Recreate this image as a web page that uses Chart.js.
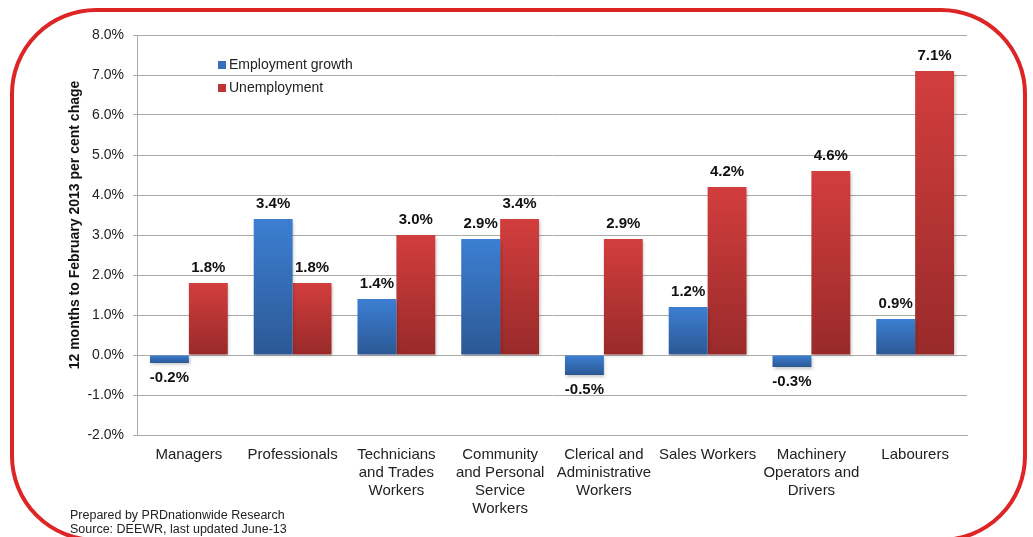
<!DOCTYPE html>
<html>
<head>
<meta charset="utf-8">
<script src="https://cdn.jsdelivr.net/npm/chart.js@4/dist/chart.umd.min.js"></script>
<style>
  html, body { margin: 0; padding: 0; background: #fff; }
  canvas { display: block; }
</style>
</head>
<body>
<canvas id="grafico" width="1033" height="537"></canvas>
<script>
// Categorías y series
const categorias = [
  'Managers',
  'Professionals',
  ['Technicians', 'and Trades', 'Workers'],
  ['Community', 'and Personal', 'Service', 'Workers'],
  ['Clerical and', 'Administrative', 'Workers'],
  'Sales Workers',
  ['Machinery', 'Operators and', 'Drivers'],
  'Labourers'
];
const crecimientoEmpleo = [-0.2, 3.4, 1.4, 2.9, -0.5, 1.2, -0.3, 0.9];
const desempleo = [1.8, 1.8, 3.0, 3.4, 2.9, 4.2, 4.6, 7.1];
const ticksY = [-2, -1, 0, 1, 2, 3, 4, 5, 6, 7, 8];

const tituloY = '12 months to February 2013 per cent chage';
const notas = ['Prepared by PRDnationwide Research', 'Source: DEEWR, last updated June-13'];

const FUENTE = 'Arial, "Liberation Sans", sans-serif';
Chart.defaults.font.family = FUENTE;
Chart.defaults.color = '#222';

// degradado vertical por barra
function degradado(claro, oscuro) {
  return function (c) {
    const chart = c.chart;
    if (!chart.chartArea || c.raw === undefined) return claro;
    const y = chart.scales.y;
    const arriba = y.getPixelForValue(Math.max(c.raw, 0));
    const abajo = y.getPixelForValue(Math.min(c.raw, 0));
    const g = chart.ctx.createLinearGradient(0, arriba, 0, abajo + 0.01);
    g.addColorStop(0, claro);
    g.addColorStop(1, oscuro);
    return g;
  };
}

// marco rojo redondeado, título del eje y notas al pie
const marco = {
  id: 'marco',
  beforeDraw(chart) {
    const ctx = chart.ctx;
    ctx.save();
    ctx.strokeStyle = '#dd2525';
    ctx.lineWidth = 4;
    ctx.beginPath();
    ctx.roundRect(12, 10, 1013, 530, 84);
    ctx.stroke();

    ctx.fillStyle = '#222';
    ctx.font = '12.5px ' + FUENTE;
    ctx.textBaseline = 'middle';
    ctx.fillText(notas[0], 70, 516);
    ctx.fillText(notas[1], 70, 530);

    ctx.translate(75, 225);
    ctx.rotate(-Math.PI / 2);
    ctx.textAlign = 'center';
    ctx.fillStyle = '#111';
    ctx.font = 'bold 14px ' + FUENTE;
    ctx.fillText(tituloY, 0, 0);
    ctx.restore();
  }
};

// sombra suave bajo las barras
const sombra = {
  id: 'sombra',
  beforeDatasetDraw(chart) {
    const ctx = chart.ctx;
    ctx.save();
    ctx.shadowColor = 'rgba(0,0,0,0.22)';
    ctx.shadowBlur = 3;
    ctx.shadowOffsetX = 1.5;
    ctx.shadowOffsetY = 1.5;
  },
  afterDatasetDraw(chart) {
    chart.ctx.restore();
  }
};

// etiquetas de valor y leyenda dentro del área
const etiquetas = {
  id: 'etiquetas',
  afterDatasetsDraw(chart) {
    const ctx = chart.ctx;
    ctx.save();
    ctx.fillStyle = '#111';
    ctx.font = 'bold 15px ' + FUENTE;
    ctx.textAlign = 'center';
    ctx.textBaseline = 'middle';
    chart.data.datasets.forEach((ds, i) => {
      chart.getDatasetMeta(i).data.forEach((barra, j) => {
        const v = ds.data[j];
        const y = v >= 0 ? barra.y - 15 : barra.y + 15;
        ctx.fillText(v.toFixed(1) + '%', barra.x, y);
      });
    });

    // leyenda
    ctx.font = '14px ' + FUENTE;
    ctx.textAlign = 'left';
    chart.data.datasets.forEach((ds, i) => {
      const y = 65 + i * 23;
      ctx.fillStyle = ds.legendColor;
      ctx.fillRect(218, y - 4, 8, 8);
      ctx.fillStyle = '#222';
      ctx.fillText(ds.label, 229, y);
    });
    ctx.restore();
  }
};

new Chart(document.getElementById('grafico'), {
  type: 'bar',
  data: {
    labels: categorias,
    datasets: [
      {
        label: 'Employment growth',
        data: crecimientoEmpleo,
        backgroundColor: degradado('#3c7fd3', '#2c5894'),
        legendColor: '#3670be',
        borderWidth: 0
      },
      {
        label: 'Unemployment',
        data: desempleo,
        backgroundColor: degradado('#d23e3d', '#992a2a'),
        legendColor: '#bf3535',
        borderWidth: 0
      }
    ]
  },
  options: {
    responsive: false,
    animation: false,
    layout: { padding: { left: 67, right: 66, top: 35, bottom: 0 } },
    datasets: {
      bar: { categoryPercentage: 0.75, barPercentage: 1.0 }
    },
    plugins: {
      legend: { display: false },
      tooltip: { enabled: false }
    },
    scales: {
      x: {
        grid: { display: false, drawTicks: false },
        border: { display: true, color: '#aaaaaa' },
        ticks: {
          font: { size: 15, lineHeight: 1.2 },
          color: '#222',
          padding: 11,
          maxRotation: 0,
          autoSkip: false
        },
        afterFit(scale) { scale.height = 102; }
      },
      y: {
        min: ticksY[0],
        max: ticksY[ticksY.length - 1],
        afterBuildTicks(scale) { scale.ticks = ticksY.map(v => ({ value: v })); },
        grid: { color: '#aaaaaa', tickLength: 4, drawTicks: true },
        border: { display: true, color: '#aaaaaa' },
        ticks: {
          font: { size: 14 },
          color: '#222',
          padding: 9,
          callback: v => v.toFixed(1) + '%'
        },
        afterFit(scale) { scale.width = 70; }
      }
    }
  },
  plugins: [marco, sombra, etiquetas]
});
</script>
</body>
</html>
